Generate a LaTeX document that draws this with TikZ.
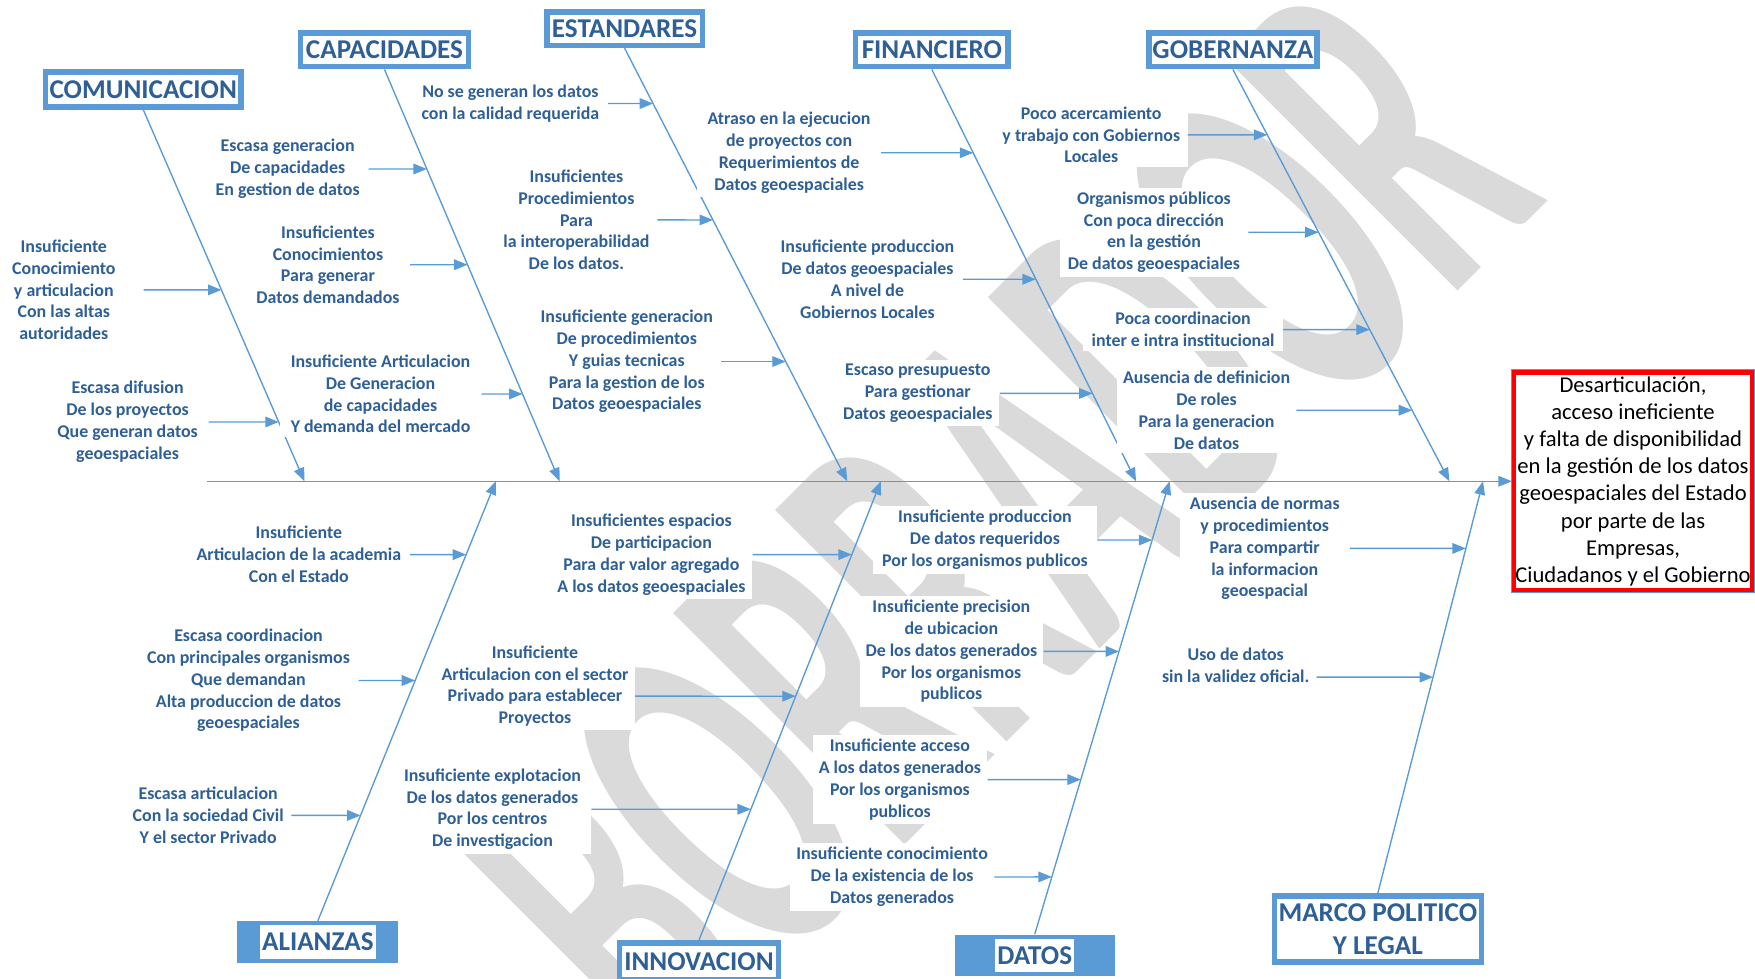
\documentclass[tikz,border=0pt]{standalone}
\usepackage{fontspec}
\setmainfont{Carlito}
\usetikzlibrary{arrows.meta}

\definecolor{bonecolor}{RGB}{91,155,213}
\definecolor{labelcolor}{RGB}{46,95,150}
\definecolor{markcolor}{RGB}{218,218,218}
\definecolor{effectred}{RGB}{255,0,0}

\tikzset{
  bone/.style={draw=bonecolor, line width=0.7pt, -{Triangle[length=0.24cm,width=0.19cm]}},
  cause/.style={bone},
  causetext/.style={fill=white, text=labelcolor, align=center, inner xsep=0pt, inner ysep=2pt,
    font=\bfseries\fontsize{9.1}{11.1}\selectfont},
  titlebox/.style={draw=bonecolor, line width=0.1cm, fill=white, text=labelcolor, align=center,
    inner sep=0pt, font=\bfseries\fontsize{13.8}{16.5}\selectfont},
  fillbox/.style={fill=bonecolor, inner sep=0pt},
  whitetag/.style={fill=white, text=labelcolor, inner xsep=1pt, inner ysep=0pt, minimum height=0.6cm,
    font=\bfseries\fontsize{13.8}{16.5}\selectfont},
  effectbox/.style={draw=effectred, line width=0.08cm, preaction={draw=bonecolor, line width=0.11cm},
    fill=white, align=center, inner sep=0pt, minimum width=4.25cm, minimum height=3.89cm,
    font=\fontsize{11.5}{13.8}\selectfont},
  watermark/.style={text=markcolor, inner sep=0pt, font=\bfseries\fontsize{131}{131}\selectfont}
}

\begin{document}
\begin{tikzpicture}[x=0.02cm, y=-0.02cm]
\path[use as bounding box] (0,0) rectangle (1568,874);
\clip (0,0) rectangle (1568,874);

% watermark
\node[watermark, rotate=45] (borrador) at (888,468) {\scalebox{1}[1.96]{BORRADOR}};

% head and category boxes
\node[effectbox] (efecto) at (1459,430) {Desarticulación,\\acceso ineficiente\\y falta de disponibilidad\\en la gestión de los datos\\geoespaciales del Estado\\por parte de las\\Empresas,\\Ciudadanos y el Gobierno};

\node[titlebox, minimum width=3.5cm, minimum height=0.62cm] (comunicacion) at (128,80) {COMUNICACION};
\node[titlebox, minimum width=3.0cm, minimum height=0.6cm] (capacidades) at (343.5,44.5) {CAPACIDADES};
\node[titlebox, minimum width=2.78cm, minimum height=0.6cm] (estandares) at (558,25.5) {ESTANDARES};
\node[titlebox, minimum width=2.72cm, minimum height=0.6cm] (financiero) at (832.5,44.5) {FINANCIERO};
\node[titlebox, minimum width=3.0cm, minimum height=0.6cm] (gobernanza) at (1101.5,44.5) {GOBERNANZA};
\node[titlebox, minimum width=2.84cm, minimum height=0.66cm] (innovacion) at (624.5,859) {INNOVACION};
\node[titlebox, minimum width=3.7cm, minimum height=1.18cm] (marco) at (1231,830) {MARCO POLITICO\\Y LEGAL};
\node[fillbox, minimum width=2.88cm, minimum height=0.74cm] (alianzas) at (284,841.5) {};
\node[whitetag] (alianzas-t) at (alianzas) {ALIANZAS};
\node[fillbox, minimum width=2.86cm, minimum height=0.74cm] (datos) at (924.5,853.5) {};
\node[whitetag] (datos-t) at (datos) {DATOS};

% spine and bones
\coordinate (tail) at (185,430);
\coordinate (s1) at (272,430);
\coordinate (s2) at (500,430);
\coordinate (s3) at (757,430);
\coordinate (s4) at (1015,430);
\coordinate (s5) at (1295,430);
\coordinate (s6) at (443,430);
\coordinate (s7) at (787,430);
\coordinate (s8) at (1045,430);
\coordinate (s9) at (1325,430);
\draw[bone] (tail) -- (efecto.west);
\draw[bone] (comunicacion.south) -- (s1);
\draw[bone] (capacidades.south) -- (s2);
\draw[bone] (estandares.south) -- (s3);
\draw[bone] (financiero.south) -- (s4);
\draw[bone] (gobernanza.south) -- (s5);
\draw[bone] (alianzas.north) -- (s6);
\draw[bone] (innovacion.north) -- (s7);
\draw[bone] (datos.north) -- (s8);
\draw[bone] (marco.north) -- (s9);

% COMUNICACION
\node[causetext, minimum width=2.84cm] (c1) at (57,259) {Insuficiente\\Conocimiento\\y articulacion\\Con las altas\\autoridades};
\node[causetext, minimum width=2.88cm] (c2) at (114,377) {Escasa difusion\\De los proyectos\\Que generan datos\\geoespaciales};
\draw[cause] (c1.east) -- (intersection of c1.east--c1.west and comunicacion.south--s1);
\draw[cause] (c2.east) -- (intersection of c2.east--c2.west and comunicacion.south--s1);

% CAPACIDADES
\node[causetext, minimum width=2.88cm] (c3) at (257,151) {Escasa generacion\\De capacidades\\En gestion de datos};
\node[causetext, minimum width=2.92cm] (c4) at (293,236.5) {Insuficientes\\Conocimientos\\Para generar\\Datos demandados};
\node[causetext, minimum width=3.6cm] (c5) at (340,352) {Insuficiente Articulacion\\De Generacion\\de capacidades\\Y demanda del mercado};
\draw[cause] (c3.east) -- (intersection of c3.east--c3.west and capacidades.south--s2);
\draw[cause] (c4.east) -- (intersection of c4.east--c4.west and capacidades.south--s2);
\draw[cause] (c5.east) -- (intersection of c5.east--c5.west and capacidades.south--s2);

% ESTANDARES
\node[causetext, minimum width=3.48cm] (c6) at (456,92.5) {No se generan los datos\\con la calidad requerida};
\node[causetext, minimum width=2.88cm] (c7) at (515,196.5) {Insuficientes\\Procedimientos\\Para\\la interoperabilidad\\De los datos.};
\node[causetext, minimum width=3.36cm] (c8) at (560,323) {Insuficiente generacion\\De procedimientos\\Y guias tecnicas\\Para la gestion de los\\Datos geoespaciales};
\draw[cause] (c6.east) -- (intersection of c6.east--c6.west and estandares.south--s3);
\draw[cause] (c7.east) -- (intersection of c7.east--c7.west and estandares.south--s3);
\draw[cause] (c8.east) -- (intersection of c8.east--c8.west and estandares.south--s3);

% FINANCIERO
\node[causetext, minimum width=3.28cm] (c9) at (705,136.5) {Atraso en la ejecucion\\de proyectos con\\Requerimientos de\\Datos geoespaciales};
\node[causetext, minimum width=3.4cm] (c10) at (775,249.5) {Insuficiente produccion\\De datos geoespaciales\\A nivel de\\Gobiernos Locales};
\node[causetext, minimum width=2.92cm] (c11) at (820,351.5) {Escaso presupuesto\\Para gestionar\\Datos geoespaciales};
\draw[cause] (c9.east) -- (intersection of c9.east--c9.west and financiero.south--s4);
\draw[cause] (c10.east) -- (intersection of c10.east--c10.west and financiero.south--s4);
\draw[cause] (c11.east) -- (intersection of c11.east--c11.west and financiero.south--s4);

% GOBERNANZA
\node[causetext, minimum width=3.44cm] (c12) at (975,120.5) {Poco acercamiento\\y trabajo con Gobiernos\\Locales};
\node[causetext, minimum width=3.36cm] (c13) at (1031,207.5) {Organismos públicos\\Con poca dirección\\en la gestión\\De datos geoespaciales};
\node[causetext, minimum width=3.56cm] (c14) at (1057,294.5) {Poca coordinacion\\inter e intra institucional};
\node[causetext, minimum width=3.2cm] (c15) at (1078,366.5) {Ausencia de definicion\\De roles\\Para la generacion\\De datos};
\draw[cause] (c12.east) -- (intersection of c12.east--c12.west and gobernanza.south--s5);
\draw[cause] (c13.east) -- (intersection of c13.east--c13.west and gobernanza.south--s5);
\draw[cause] (c14.east) -- (intersection of c14.east--c14.west and gobernanza.south--s5);
\draw[cause] (c15.east) -- (intersection of c15.east--c15.west and gobernanza.south--s5);

% ALIANZAS
\node[causetext, minimum width=3.96cm] (c16) at (267,495.5) {Insuficiente\\Articulacion de la academia\\Con el Estado};
\node[causetext, minimum width=3.92cm] (c17) at (222,608) {Escasa coordinacion\\Con principales organismos\\Que demandan\\Alta produccion de datos\\geoespaciales};
\node[causetext, minimum width=2.96cm] (c18) at (186,728.5) {Escasa articulacion\\Con la sociedad Civil\\Y el sector Privado};
\draw[cause] (c16.east) -- (intersection of c16.east--c16.west and alianzas.north--s6);
\draw[cause] (c17.east) -- (intersection of c17.east--c17.west and alianzas.north--s6);
\draw[cause] (c18.east) -- (intersection of c18.east--c18.west and alianzas.north--s6);

% INNOVACION
\node[causetext, minimum width=3.6cm] (c19) at (582,495.5) {Insuficientes espacios\\De participacion\\Para dar valor agregado\\A los datos geoespaciales};
\node[causetext, minimum width=3.56cm] (c20) at (478,613) {Insuficiente\\Articulacion con el sector\\Privado para establecer\\Proyectos};
\node[causetext, minimum width=3.52cm] (c21) at (440,723) {Insuficiente explotacion\\De los datos generados\\Por los centros\\De investigacion};
\coordinate (a20) at ([yshift=-0.18cm]c20.east);
\coordinate (b20) at ([yshift=-0.18cm]c20.west);
\draw[cause] (c19.east) -- (intersection of c19.east--c19.west and innovacion.north--s7);
\draw[cause] (a20) -- (intersection of a20--b20 and innovacion.north--s7);
\draw[cause] (c21.east) -- (intersection of c21.east--c21.west and innovacion.north--s7);

% DATOS
\node[causetext, minimum width=4.0cm] (c22) at (880,482.5) {Insuficiente produccion\\De datos requeridos\\Por los organismos publicos};
\node[causetext, minimum width=3.28cm] (c23) at (850,582) {Insuficiente precision\\de ubicacion\\De los datos generados\\Por los organismos\\publicos};
\node[causetext, minimum width=3.12cm] (c24) at (804,696.5) {Insuficiente acceso\\A los datos generados\\Por los organismos\\publicos};
\node[causetext, minimum width=3.64cm] (c25) at (797,783.5) {Insuficiente conocimiento\\De la existencia de los\\Datos generados};
\draw[cause] (c22.east) -- (intersection of c22.east--c22.west and datos.north--s8);
\draw[cause] (c23.east) -- (intersection of c23.east--c23.west and datos.north--s8);
\draw[cause] (c24.east) -- (intersection of c24.east--c24.west and datos.north--s8);
\draw[cause] (c25.east) -- (intersection of c25.east--c25.west and datos.north--s8);

% MARCO POLITICO Y LEGAL
\node[causetext, minimum width=3.04cm] (c26) at (1130,490) {Ausencia de normas\\y procedimientos\\Para compartir\\la informacion\\geoespacial};
\node[causetext, minimum width=2.88cm] (c27) at (1104,594.5) {Uso de datos\\sin la validez oficial.};
\coordinate (a27) at ([yshift=-0.21cm]c27.east);
\coordinate (b27) at ([yshift=-0.21cm]c27.west);
\draw[cause] (c26.east) -- (intersection of c26.east--c26.west and marco.north--s9);
\draw[cause] (a27) -- (intersection of a27--b27 and marco.north--s9);
\end{tikzpicture}
\end{document}
